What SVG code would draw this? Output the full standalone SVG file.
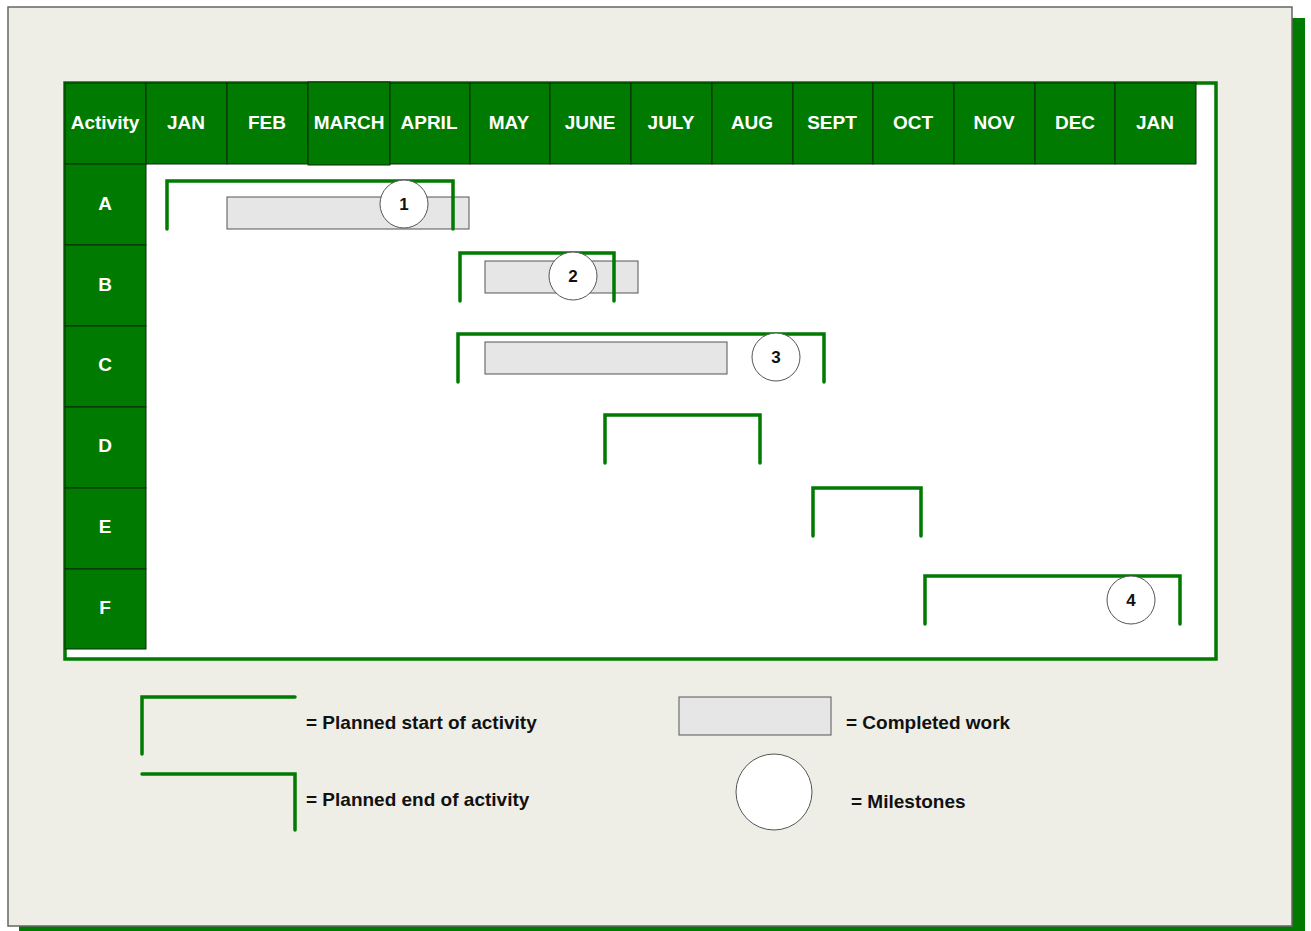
<svg xmlns="http://www.w3.org/2000/svg" width="1311" height="931" viewBox="0 0 1311 931">
<style>
.cell{fill:#007a00;stroke:#0a2a0a;stroke-width:1}
.ht{font-family:"Liberation Sans",Arial,sans-serif;font-weight:bold;font-size:19px;fill:#ffffff;text-anchor:middle}
.br{fill:none;stroke:#007a00;stroke-width:3.5;stroke-linecap:round;stroke-linejoin:miter}
.done{fill:#e6e6e6;stroke:#555;stroke-width:1}
.ms{fill:#ffffff;stroke:#555;stroke-width:1}
.mt{font-family:"Liberation Sans",Arial,sans-serif;font-weight:bold;font-size:17px;fill:#111;text-anchor:middle}
.lt{font-family:"Liberation Sans",Arial,sans-serif;font-weight:bold;font-size:19px;fill:#111}
</style>
<g id="background">
<rect x="19" y="18" width="1286" height="913" fill="#007a00"/>
<rect x="8" y="7" width="1284" height="919" fill="#eeeee6" stroke="#666" stroke-width="1.5"/>
<rect x="65" y="83" width="1151" height="576" fill="#ffffff" stroke="#007a00" stroke-width="3.5"/>
</g>
<g id="header">
<rect class="cell" x="65" y="83" width="81" height="81"/><text class="ht" x="105" y="129">Activity</text>
<rect class="cell" x="146" y="83" width="81" height="81"/><text class="ht" x="186" y="129">JAN</text>
<rect class="cell" x="227" y="83" width="81" height="81"/><text class="ht" x="267" y="129">FEB</text>
<rect class="cell" x="308" y="82" width="82" height="83"/><text class="ht" x="349" y="129">MARCH</text>
<rect class="cell" x="390" y="83" width="80" height="81"/><text class="ht" x="429" y="129">APRIL</text>
<rect class="cell" x="470" y="83" width="80" height="81"/><text class="ht" x="509" y="129">MAY</text>
<rect class="cell" x="550" y="83" width="81" height="81"/><text class="ht" x="590" y="129">JUNE</text>
<rect class="cell" x="631" y="83" width="81" height="81"/><text class="ht" x="671" y="129">JULY</text>
<rect class="cell" x="712" y="83" width="81" height="81"/><text class="ht" x="752" y="129">AUG</text>
<rect class="cell" x="793" y="83" width="80" height="81"/><text class="ht" x="832" y="129">SEPT</text>
<rect class="cell" x="873" y="83" width="81" height="81"/><text class="ht" x="913" y="129">OCT</text>
<rect class="cell" x="954" y="83" width="81" height="81"/><text class="ht" x="994" y="129">NOV</text>
<rect class="cell" x="1035" y="83" width="80" height="81"/><text class="ht" x="1075" y="129">DEC</text>
<rect class="cell" x="1115" y="83" width="81" height="81"/><text class="ht" x="1155" y="129">JAN</text>
</g>
<g id="rows">
<rect class="cell" x="65" y="164" width="81" height="81"/><text class="ht" x="105" y="210">A</text>
<rect class="cell" x="65" y="245" width="81" height="81"/><text class="ht" x="105" y="291">B</text>
<rect class="cell" x="65" y="326" width="81" height="81"/><text class="ht" x="105" y="371">C</text>
<rect class="cell" x="65" y="407" width="81" height="81"/><text class="ht" x="105" y="452">D</text>
<rect class="cell" x="65" y="488" width="81" height="81"/><text class="ht" x="105" y="533">E</text>
<rect class="cell" x="65" y="569" width="81" height="80"/><text class="ht" x="105" y="614">F</text>
</g>
<g id="activity-A">
<rect class="done" x="227" y="197" width="242" height="32"/>
<path class="br" d="M167,229 V181 H453 V229"/>
<circle class="ms" cx="404" cy="204" r="24"/><text class="mt" x="404" y="210">1</text>
</g>
<g id="activity-B">
<rect class="done" x="485" y="261" width="153" height="32"/>
<path class="br" d="M460,301 V253 H614 V301"/>
<circle class="ms" cx="573" cy="276" r="24"/><text class="mt" x="573" y="282">2</text>
</g>
<g id="activity-C">
<rect class="done" x="485" y="342" width="242" height="32"/>
<path class="br" d="M458,382 V334 H824 V382"/>
<circle class="ms" cx="776" cy="357" r="24"/><text class="mt" x="776" y="363">3</text>
</g>
<g id="activity-D">
<path class="br" d="M605,463 V415 H760 V463"/>
</g>
<g id="activity-E">
<path class="br" d="M813,536 V488 H921 V536"/>
</g>
<g id="activity-F">
<path class="br" d="M925,624 V576 H1180 V624"/>
<circle class="ms" cx="1131" cy="600" r="24"/><text class="mt" x="1131" y="606">4</text>
</g>
<g id="legend">
<path class="br" d="M142,754 V697 H295"/>
<text class="lt" x="306" y="729">= Planned start of activity</text>
<path class="br" d="M142,774 H295 V830"/>
<text class="lt" x="306" y="806">= Planned end of activity</text>
<rect class="done" x="679" y="697" width="152" height="38"/>
<text class="lt" x="846" y="729">= Completed work</text>
<circle class="ms" cx="774" cy="792" r="38"/>
<text class="lt" x="851" y="808">= Milestones</text>
</g>
<g id="connectors"></g>
</svg>
